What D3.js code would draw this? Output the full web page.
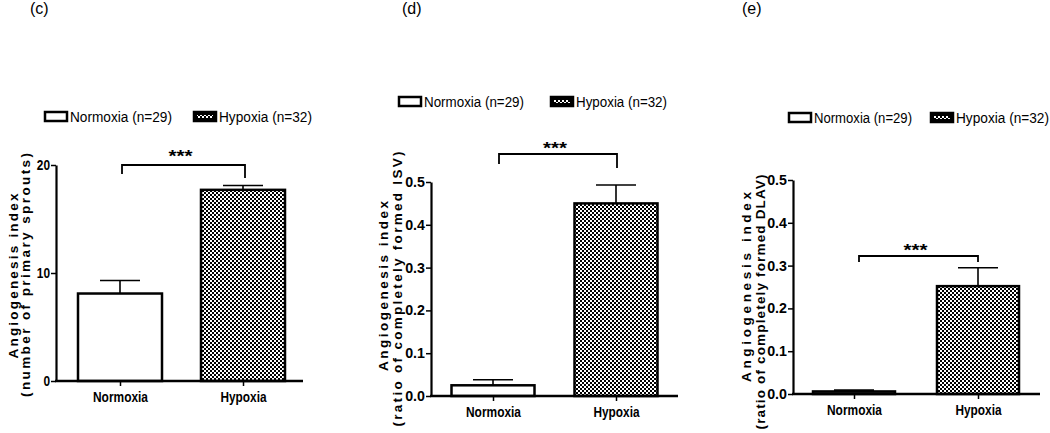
<!DOCTYPE html>
<meta charset="utf-8">
<title>Angiogenesis index - normoxia vs hypoxia</title>
<script src="https://d3js.org/d3.v7.min.js"></script>
<style>
  body { margin: 0; background: #fff; }
  .narrow { font-family: "Liberation Sans Narrow", "Arial Narrow", "Liberation Sans", Arial, sans-serif; }
  .wide { font-family: "Liberation Sans", Arial, sans-serif; }
</style>
<body>
<svg></svg>
<script>
var width = 1050,
    height = 433;

// data
var categories = ["Normoxia", "Hypoxia"];
var legendLabels = ["Normoxia (n=29)", "Hypoxia (n=32)"];
var panelLetters = ["(c)", "(d)", "(e)"];
var titleTop = "Angiogenesis index";
var titleBottom = ["(number of primary sprouts)",
                   "(ratio of completely formed ISV)",
                   "(ratio of completely formed DLAV)"];
var sigMark = "***";

var sproutMean = [8.1, 17.7],
    sproutSem = [1.2, 0.4];
var isvMean = [0.025, 0.45],
    isvSem = [0.013, 0.043];
var dlavMean = [0.006, 0.252],
    dlavSem = [0.003, 0.043];

var sproutTicks = [0, 10, 20];
var ratioTicks = [0, 0.1, 0.2, 0.3, 0.4, 0.5];

// page layout of the three panels
var panels = [
  {mean: sproutMean, sem: sproutSem, ticks: sproutTicks, fmt: d3.format("d"),
   ax: 56, top: 165, base: 381, end: 303, cx: [120, 243], barW: 84, lx: 30,
   legY: 112, legX: [44, 193], legW: [102, 93],
   brY: 165, brX: [122, 245], brLegs: [9, 13], starDy: -12,
   tX: [13, 25], tY: [276, 275], tLen: [165, 244]},
  {mean: isvMean, sem: isvSem, ticks: ratioTicks, fmt: d3.format(".1f"),
   ax: 431, top: 182, base: 396, end: 678, cx: [493, 616], barW: 83, lx: 402,
   legY: 97, legX: [398, 550], legW: [100, 91],
   brY: 154, brX: [499, 617], brLegs: [10, 14], starDy: -9,
   tX: [383, 397], tY: [286, 289], tLen: [170, 275]},
  {mean: dlavMean, sem: dlavSem, ticks: ratioTicks, fmt: d3.format(".1f"),
   ax: 793, top: 180, base: 394, end: 1040, cx: [854, 978], barW: 82, lx: 742,
   legY: 113, legX: [788, 930], legW: [98, 93],
   brY: 256, brX: [859, 978], brLegs: [6, 6], starDy: -9,
   tX: [746, 760], tY: [287, 302], tLen: [190, 255]}
];

var svg = d3.select("svg")
    .attr("width", width)
    .attr("height", height);

// 2px checkerboard used for hypoxia
var pat = svg.append("defs").append("pattern")
    .attr("id", "checker")
    .attr("patternUnits", "userSpaceOnUse")
    .attr("width", 4)
    .attr("height", 4);
pat.append("rect").attr("width", 4).attr("height", 4).attr("fill", "#fff");
pat.append("rect").attr("width", 2).attr("height", 2).attr("fill", "#000");
pat.append("rect").attr("x", 2).attr("y", 2).attr("width", 2).attr("height", 2).attr("fill", "#000");

var fills = ["#fff", "url(#checker)"];

panels.forEach(function(p, i) {
  var g = svg.append("g");

  var y = d3.scaleLinear()
      .domain([0, d3.max(p.ticks)])
      .range([p.base, p.top]);

  var x = d3.scalePoint()
      .domain(categories)
      .range(p.cx);

  // panel letter
  g.append("text")
      .attr("class", "wide")
      .attr("x", p.lx)
      .attr("y", 14)
      .attr("font-size", 16)
      .text(panelLetters[i]);

  // legend
  var leg = g.selectAll(".leg")
      .data(categories)
      .enter().append("g")
      .attr("class", "leg");
  leg.append("rect")
      .attr("x", function(d, j) { return p.legX[j] + 1; })
      .attr("y", p.legY)
      .attr("width", 22)
      .attr("height", 9)
      .attr("fill", function(d, j) { return j ? "#000" : "#fff"; })
      .attr("stroke", "#000")
      .attr("stroke-width", 2.5);
  leg.filter(function(d, j) { return j == 1; }).append("rect")
      .attr("x", p.legX[1] + 4)
      .attr("y", p.legY + 3)
      .attr("width", 16)
      .attr("height", 3)
      .attr("fill", "url(#checker)");
  leg.append("text")
      .attr("class", "narrow")
      .attr("x", function(d, j) { return p.legX[j] + 26; })
      .attr("y", p.legY + 10)
      .attr("font-size", 14)
      .attr("textLength", function(d, j) { return p.legW[j]; })
      .attr("lengthAdjust", "spacingAndGlyphs")
      .text(function(d, j) { return legendLabels[j]; });

  // bars
  g.selectAll(".bar")
      .data(categories)
      .enter().append("rect")
      .attr("class", "bar")
      .attr("x", function(d) { return x(d) - p.barW / 2; })
      .attr("y", function(d, j) { return y(p.mean[j]); })
      .attr("width", p.barW)
      .attr("height", function(d, j) { return p.base - y(p.mean[j]); })
      .attr("fill", function(d, j) { return fills[j]; })
      .attr("stroke", "#000")
      .attr("stroke-width", 2.5);

  // error bars (upper half only, like the original)
  var err = g.selectAll(".err")
      .data(categories)
      .enter().append("g")
      .attr("class", "err")
      .attr("stroke", "#000")
      .attr("stroke-width", 1.6);
  err.append("line")
      .attr("x1", function(d) { return x(d); })
      .attr("x2", function(d) { return x(d); })
      .attr("y1", function(d, j) { return y(p.mean[j]); })
      .attr("y2", function(d, j) { return y(p.mean[j] + p.sem[j]); });
  err.append("line")
      .attr("x1", function(d) { return x(d) - 20; })
      .attr("x2", function(d) { return x(d) + 20; })
      .attr("y1", function(d, j) { return y(p.mean[j] + p.sem[j]); })
      .attr("y2", function(d, j) { return y(p.mean[j] + p.sem[j]); });

  // y axis
  var yAxis = g.append("g")
      .attr("transform", "translate(" + p.ax + ",0)")
      .call(d3.axisLeft(y)
        .tickValues(p.ticks)
        .tickFormat(p.fmt)
        .tickSize(5)
        .tickPadding(1)
        .tickSizeOuter(0));
  yAxis.select(".domain").attr("stroke-width", 2.2);
  yAxis.selectAll(".tick line").attr("stroke-width", 1.5);
  yAxis.selectAll("text")
      .attr("class", "narrow")
      .attr("font-size", 14)
      .attr("font-weight", "bold")
      .attr("textLength", function(d) { return String(p.fmt(d)).length * 6.6; })
      .attr("lengthAdjust", "spacingAndGlyphs");
  yAxis.attr("font-family", null).attr("font-size", null);

  // x axis
  g.append("line")
      .attr("x1", p.ax - 1)
      .attr("x2", p.end)
      .attr("y1", p.base)
      .attr("y2", p.base)
      .attr("stroke", "#000")
      .attr("stroke-width", 2.5);
  var xAxis = g.append("g")
      .attr("transform", "translate(0," + p.base + ")")
      .call(d3.axisBottom(x).tickSize(5).tickPadding(5));
  xAxis.select(".domain").remove();
  xAxis.selectAll(".tick line").attr("stroke-width", 1.5);
  xAxis.selectAll("text")
      .attr("class", "narrow")
      .attr("font-size", 15)
      .attr("font-weight", "bold")
      .attr("textLength", function(d) { return d == "Normoxia" ? 55 : 46; })
      .attr("lengthAdjust", "spacingAndGlyphs");
  xAxis.attr("font-family", null).attr("font-size", null);

  // significance bracket
  g.append("path")
      .attr("d", "M" + p.brX[0] + "," + (p.brY + p.brLegs[0]) +
                 "V" + p.brY + "H" + p.brX[1] + "V" + (p.brY + p.brLegs[1]))
      .attr("fill", "none")
      .attr("stroke", "#000")
      .attr("stroke-width", 1.8);
  g.append("text")
      .attr("class", "wide")
      .attr("x", (p.brX[0] + p.brX[1]) / 2 - 3)
      .attr("y", p.brY + p.starDy + 9)
      .attr("text-anchor", "middle")
      .attr("font-size", 17)
      .attr("font-weight", "bold")
      .attr("textLength", 24)
      .attr("lengthAdjust", "spacingAndGlyphs")
      .text(sigMark);

  // y title, two lines
  [titleTop, titleBottom[i]].forEach(function(t, k) {
    g.append("text")
        .attr("class", "wide")
        .attr("transform", "translate(" + p.tX[k] + "," + p.tY[k] + ") rotate(-90)")
        .attr("text-anchor", "middle")
        .attr("dy", "0.35em")
        .attr("font-size", 13.5)
        .attr("font-weight", "bold")
        .attr("textLength", p.tLen[k])
        .attr("lengthAdjust", "spacing")
        .text(t);
  });
});
</script>
</body>
